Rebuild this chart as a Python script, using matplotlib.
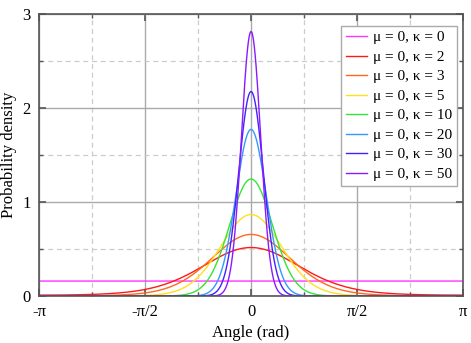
import numpy as np
import matplotlib
matplotlib.use("Agg")
import matplotlib.pyplot as plt
from matplotlib.ticker import MultipleLocator, FixedLocator

mu = 0
kappas = [0, 2, 3, 5, 10, 20, 30, 50]
colors = ["#ff33ff", "#ff1a1a", "#ff6a1a", "#ffe01a", "#33e633", "#3399ff", "#4422ff", "#8a1aff"]
xtick_labels = ["-π", "-π/2", "0", "π/2", "π"]
ytick_labels = ["0", "1", "2", "3"]

plt.rcParams['font.family'] = ['Liberation Serif', 'DejaVu Serif']

fig = plt.figure(figsize=(4.71, 3.43), dpi=100)
ax = fig.add_axes([0.083, 0.137, 0.900, 0.822])

x = np.linspace(-np.pi, np.pi, 2001)
for k, c in zip(kappas, colors):
    y = np.exp(k * np.cos(x - mu)) / (2 * np.pi * np.i0(k))
    ax.plot(x, y, color=c, lw=1.0, label=f"μ = {mu}, κ = {k}")

ax.set_xlim(-np.pi, np.pi)
ax.set_ylim(0, 3)
ax.xaxis.set_major_locator(FixedLocator([-np.pi, -np.pi/2, 0, np.pi/2, np.pi]))
ax.xaxis.set_minor_locator(FixedLocator([-3*np.pi/4, -np.pi/4, np.pi/4, 3*np.pi/4]))
ax.set_xticklabels(xtick_labels)
ax.yaxis.set_major_locator(FixedLocator([0, 1, 2, 3]))
ax.yaxis.set_minor_locator(MultipleLocator(0.5))
ax.set_yticklabels(ytick_labels)

ax.grid(which='major', color='#aaaaaa', lw=1.0, ls='-')
ax.grid(which='minor', color='#cccccc', lw=0.9, ls=(0, (4, 3)))
ax.set_axisbelow(True)

ax.tick_params(which='both', direction='in', top=True, right=True, labelsize=12, colors='#555555', labelcolor='black')
ax.tick_params(which='major', length=5, width=1.2, pad=6)
ax.tick_params(which='minor', length=3, width=1.0)
for s in ax.spines.values():
    s.set_color('#555555')
    s.set_linewidth(1.2)

ax.set_xlabel("Angle (rad)", fontsize=12, labelpad=3)
ax.set_ylabel("Probability density", fontsize=12, labelpad=4)

leg = ax.legend(loc='upper right', bbox_to_anchor=(0.986, 0.957), fontsize=11, fancybox=False, framealpha=1,
                edgecolor='#aaaaaa', handlelength=1.4, handletextpad=0.4,
                labelspacing=0.38, borderpad=0.3, borderaxespad=0.0)
leg.get_frame().set_linewidth(1.0)

fig.savefig("out.png", dpi=100)
